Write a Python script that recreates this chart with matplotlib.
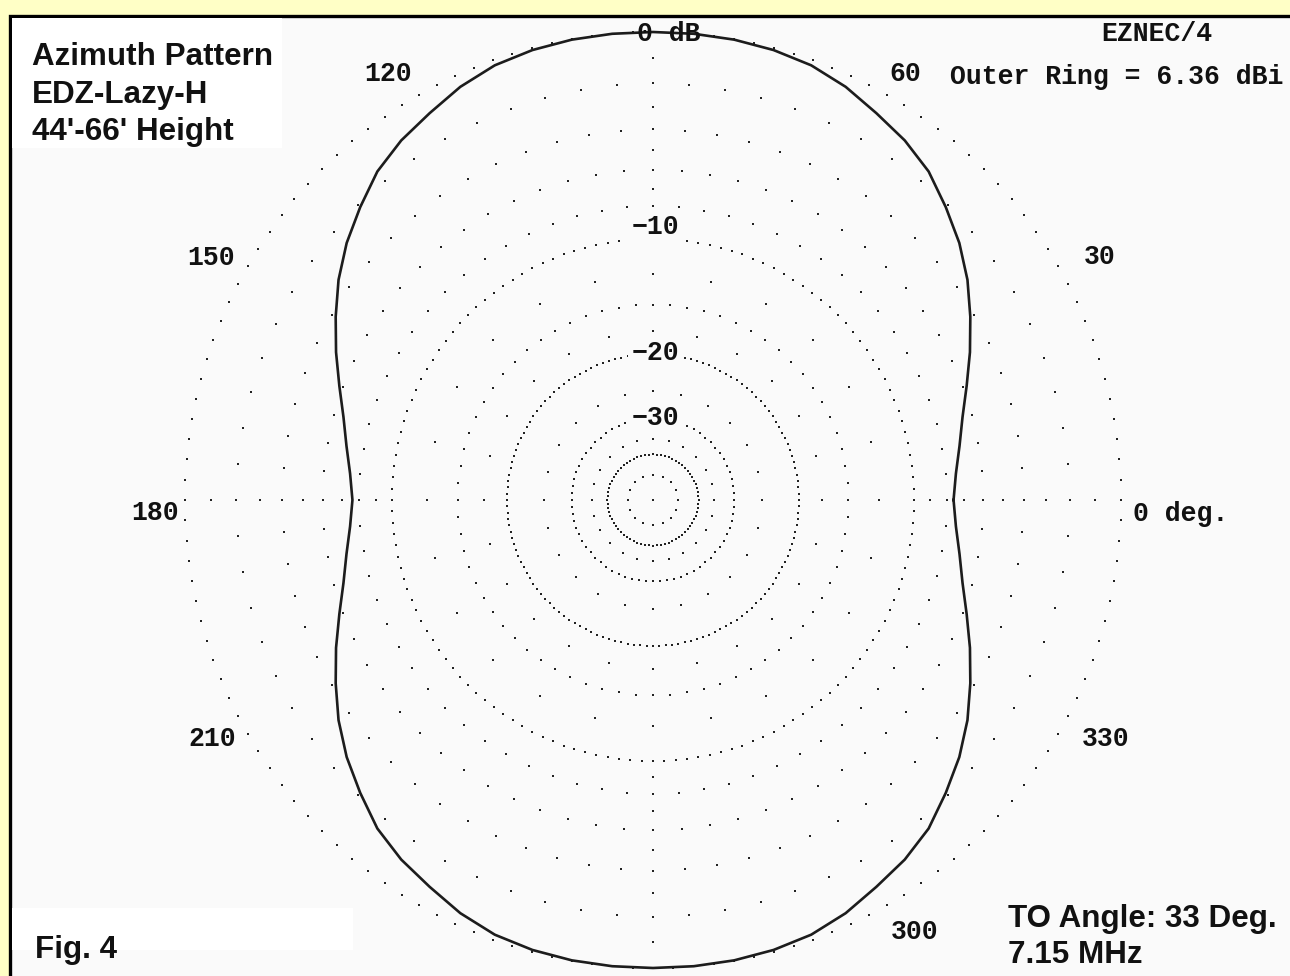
import numpy as np
import matplotlib
matplotlib.use('Agg')
import matplotlib.pyplot as plt
from matplotlib.patches import Rectangle

# ---------------- data ----------------
angles_deg = list(range(0, 360, 5))
gain_db = [
    -7.6, -7.4, -7.0, -6.5, -5.8, -5.0, -4.2, -3.4, -2.7, -2.1, -1.5, -1.1, -0.8, -0.45, -0.2, -0.08, -0.02, 0.0, 0.0,
    0.0, -0.02, -0.08, -0.2, -0.45, -0.8, -1.1, -1.5, -2.1, -2.7, -3.4, -4.2, -5.0, -5.8, -6.5, -7.0, -7.4, -7.6,
    -7.4, -7.0, -6.5, -5.8, -5.0, -4.2, -3.4, -2.7, -2.1, -1.5, -1.1, -0.8, -0.45, -0.2, -0.08, -0.02, 0.0, 0.0,
    0.0, -0.02, -0.08, -0.2, -0.45, -0.8, -1.1, -1.5, -2.1, -2.7, -3.4, -4.2, -5.0, -5.8, -6.5, -7.0, -7.4,
]
ring_levels_db = [0, -2, -4, -6, -8, -10, -12.5, -15, -17.5, -20, -25, -30, -35, -40, -50]
ring_dot_step_deg = [2.5, 5, 5, 5, 5, 2.5, 15, 5, 15, 2.5, 15, 5, 15, 5, 22.5]
axis_tick_db = [-1, -3, -5, -7, -9]
ring_labels = ['\u221210', '\u221220', '\u221230']
angle_labels = ['120', '60', '150', '30', '180', '210', '330', '300']
outer_ring_dbi = 6.36
program_name = 'EZNEC/4'
title_lines = ['Azimuth Pattern', 'EDZ-Lazy-H', "44'-66' Height"]
info_lines = ['TO Angle: 33 Deg.', '7.15 MHz']
fig_label = 'Fig. 4'


def arrl(db):
    """ARRL log scale: radius shrinks by 0.89 every 2 dB."""
    return 0.89 ** (-np.asarray(db, dtype=float) / 2.0)


# ---------------- figure ----------------
W, H = 1290, 976
fig = plt.figure(figsize=(W / 100, H / 100), dpi=100)
fig.patch.set_facecolor('#FFFFC6')


def fx(x):
    return x / W


def fy(y):
    return 1 - y / H


# panel
panel = Rectangle((fx(10), fy(1000)), fx(1400) - fx(10), fy(16) - fy(1000),
                  transform=fig.transFigure, facecolor='#FAFAFA',
                  edgecolor='black', linewidth=2.4, zorder=0)
fig.add_artist(panel)
# white boxes
fig.add_artist(Rectangle((fx(12), fy(148)), fx(282) - fx(12), fy(18) - fy(148),
                         transform=fig.transFigure, facecolor='white',
                         edgecolor='none', zorder=0.5))
fig.add_artist(Rectangle((fx(12), fy(950)), fx(353) - fx(12), fy(908) - fy(950),
                         transform=fig.transFigure, facecolor='white',
                         edgecolor='none', zorder=0.5))

# polar axes: centre (653,500) px, outer radius 468 px
cx, cy, R = 653, 500, 468
ax = fig.add_axes([fx(cx - R), fy(cy + R), (2 * R) / W, (2 * R) / H],
                  projection='polar')
ax.set_zorder(1)
ax.set_ylim(0, 1)
ax.axis('off')

dot_kw = dict(s=3.2, marker='s', color='#222222', linewidths=0, clip_on=False)

for lvl, step in zip(ring_levels_db, ring_dot_step_deg):
    th = np.deg2rad(np.arange(0, 360, step))
    ax.scatter(th, np.full(th.shape, arrl(lvl)), **dot_kw)

for lvl in axis_tick_db:
    th = np.deg2rad([0, 90, 180, 270])
    ax.scatter(th, np.full(th.shape, arrl(lvl)), **dot_kw)
ax.scatter([0], [0], **dot_kw)

theta = np.deg2rad(angles_deg + [angles_deg[0] + 360])
r = arrl(gain_db + [gain_db[0]])
ax.plot(theta, r, color='#1c1c1c', linewidth=1.9, clip_on=False, zorder=3)

# ---------------- text ----------------
mono = dict(family=['Liberation Mono', 'DejaVu Sans Mono'], weight='bold',
            fontsize=19.1, color='#111111')
sans = dict(family=['Liberation Sans', 'DejaVu Sans'], fontsize=22.6,
            weight='bold', color='#111111')

fig.text(fx(1157), fy(34), program_name, ha='center', va='center', zorder=4, **mono)
fig.text(fx(950), fy(77), f'Outer Ring = {outer_ring_dbi:.2f} dBi',
         ha='left', va='center', zorder=4, **mono)
fig.text(fx(637), fy(34), '0 dB', ha='left', va='center', zorder=4, **mono)
fig.text(fx(1133), fy(514), '0 deg.', ha='left', va='center', zorder=4, **mono)

angle_label_px = [(388, 74), (905, 74), (211, 258), (1100, 257),
                  (155, 513), (212, 739), (1106, 739), (915, 932)]
for lab, (px, py) in zip(angle_labels, angle_label_px):
    fig.text(fx(px), fy(py), lab, ha='center', va='center', zorder=4, **mono)

ring_label_px = [(655, 227), (655, 353), (655, 418)]
for lab, (px, py) in zip(ring_labels, ring_label_px):
    fig.text(fx(px), fy(py), lab, ha='center', va='center', zorder=4,
             bbox=dict(facecolor='#FAFAFA', edgecolor='none', pad=2.5), **mono)

for i, line in enumerate(title_lines):
    fig.text(fx(32), fy(65 + 37.5 * i), line, ha='left', va='baseline',
             zorder=4, **sans)

fig.text(fx(35), fy(958), fig_label, ha='left', va='baseline', zorder=4, **sans)
fig.text(fx(1008), fy(927), info_lines[0], ha='left', va='baseline', zorder=4, **sans)
fig.text(fx(1008), fy(963), info_lines[1], ha='left', va='baseline', zorder=4, **sans)

fig.savefig('out.png', dpi=100, facecolor=fig.get_facecolor())
